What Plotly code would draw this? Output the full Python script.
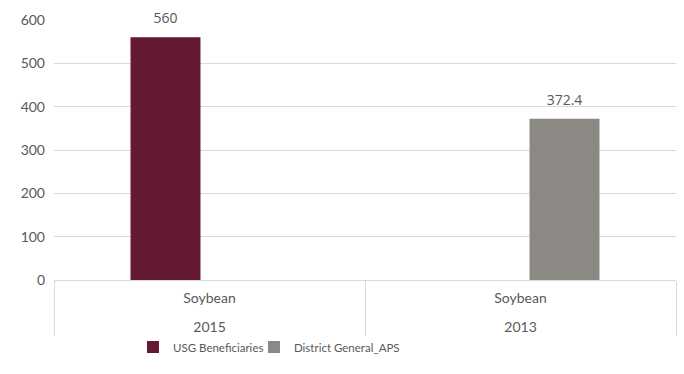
import plotly.graph_objects as go

# Chart data
crop = ["Soybean", "Soybean"]
years = ["2015", "2013"]
usg_values = [560, None]
district_values = [None, 372.4]
series_names = ["USG Beneficiaries", "District General_APS"]
y_ticks = [0, 100, 200, 300, 400, 500, 600]

MAROON = "#651A32"
GREY = "#8C8984"
TEXT = "#595959"
LINE = "#D9D9D9"
AXIS_FONT = "Lato, Gill Sans MT, sans-serif"
LABEL_FONT = "Open Sans, sans-serif"

# inner row gets a trailing blank line so the year row sits lower
inner_labels = [c + "<br><span style='font-size:2px'> </span>" for c in crop]
x_cats = [years, inner_labels]

fig = go.Figure()
for name, vals, color, legend_id in [
    (series_names[0], usg_values, MAROON, "legend"),
    (series_names[1], district_values, GREY, "legend2"),
]:
    fig.add_trace(go.Bar(
        x=x_cats,
        y=vals,
        name=name,
        legend=legend_id,
        marker=dict(color=color, line=dict(width=0)),
        text=[("%g" % v) if v is not None else "" for v in vals],
        texttemplate="<span style='font-size:14px'>%{text}</span><br> ",
        textposition="outside",
        textfont=dict(family=LABEL_FONT, size=7, color=TEXT),
        cliponaxis=False,
        hoverinfo="skip",
    ))

legend_style = dict(
    orientation="h",
    xanchor="left",
    y=-0.258,
    yanchor="middle",
    bgcolor="rgba(0,0,0,0)",
    font=dict(family=AXIS_FONT, size=11.5, color=TEXT),
    itemwidth=30,
)

fig.update_layout(
    width=684,
    height=374,
    margin=dict(l=54, r=8, t=20, b=94, autoexpand=False),
    paper_bgcolor="white",
    plot_bgcolor="white",
    barmode="group",
    bargap=0.434,
    bargroupgap=0.205,
    showlegend=True,
    legend=dict(x=0.127, **legend_style),
    legend2=dict(x=0.3215, **legend_style),
    xaxis=dict(
        type="multicategory",
        showline=True,
        linecolor=LINE,
        linewidth=1,
        showgrid=False,
        showdividers=True,
        dividercolor=LINE,
        dividerwidth=1,
        tickfont=dict(family=AXIS_FONT, size=14, color=TEXT),
        ticks="",
        ticklabelstandoff=5,
    ),
    yaxis=dict(
        range=[0, 600],
        tickvals=y_ticks,
        showgrid=True,
        gridcolor=LINE,
        gridwidth=1,
        zeroline=False,
        showline=False,
        ticks="",
        tickfont=dict(family=AXIS_FONT, size=14, color=TEXT),
        ticklabelstandoff=8,
    ),
)

fig.write_html("out.html")
